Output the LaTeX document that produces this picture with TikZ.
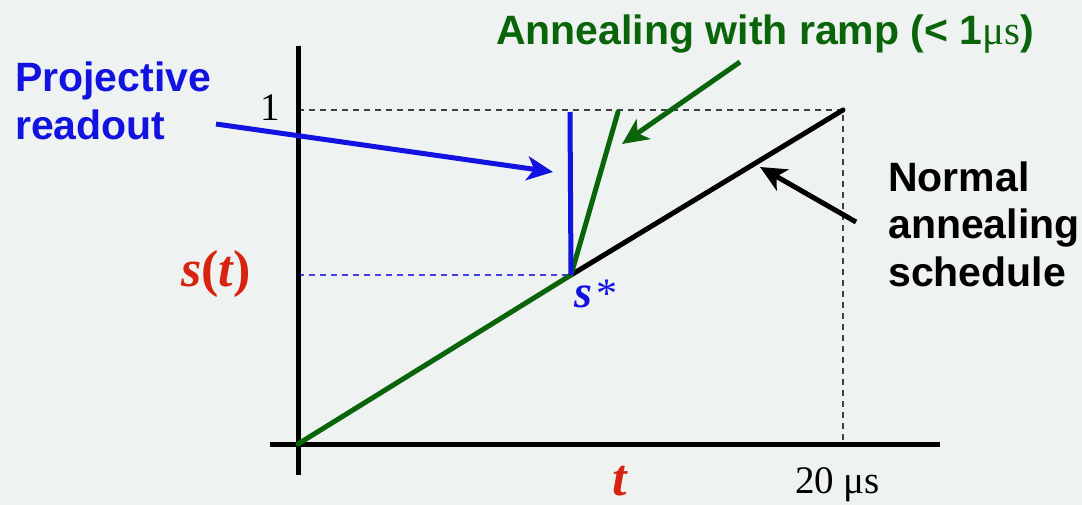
\documentclass[tikz,border=0pt]{standalone}
\usepackage{fontspec}
\setmainfont{Liberation Serif}
\newfontfamily\arialf{Liberation Sans}
\usetikzlibrary{arrows.meta}
\definecolor{bgc}{RGB}{238,242,240}
\definecolor{pblue}{RGB}{18,18,225}
\definecolor{pgreen}{RGB}{10,100,10}
\definecolor{pred}{RGB}{215,35,15}
\tikzset{
  axisline/.style={line width=5pt,black},
  sched/.style={line width=5pt,line cap=round},
  guide/.style={line width=1.6pt,dash pattern=on 6pt off 5pt},
  pointer/.style={line width=5pt,-{Stealth[length=26pt,width=24pt,inset=7pt]}},
  labsans/.style={font=\arialf\bfseries\fontsize{41}{48}\selectfont,inner sep=0pt,align=left},
  labserif/.style={font=\fontsize{39}{45}\selectfont,inner sep=0pt},
  labvar/.style={font=\bfseries\itshape\fontsize{52}{55}\selectfont,inner sep=0pt,text=pred}
}
\begin{document}
\begin{tikzpicture}[x=1pt,y=-1pt]
\fill[bgc] (0,0) rectangle (1082,505);
\useasboundingbox (0,0) rectangle (1082,505);
% key points
\coordinate (O) at (298,444);
\coordinate (T) at (843,110);
\coordinate (S) at (571,275);
\coordinate (G) at (618,112);
\coordinate (B) at (570,112);
\coordinate (Y1) at (298,110);
\coordinate (YS) at (298,275);
\coordinate (X20) at (843,444);
\coordinate (ytop) at (298,46);
\coordinate (ybot) at (298,475);
\coordinate (xl) at (270,444);
\coordinate (xr) at (940,444);
% guides
\draw[guide,black!75] (Y1) -- (T) -- (X20);
\draw[guide,pblue!80] (YS) -- (S);
% axes
\draw[axisline] (ytop) -- (ybot);
\draw[axisline] (xl) -- (xr);
% schedules
\draw[sched,black] (S) -- (T);
\draw[sched,pgreen] (O) -- (S) -- (G);
\draw[line width=5pt,pblue] (S) -- (B);
% labels
\node[labsans,text=pblue,anchor=base west] (proj) at (15,140) {Projective\\readout};
\node[labsans,text=pgreen,anchor=base west] (ramp) at (496,45) {Annealing with ramp (< 1{\normalfont\fontsize{41}{44}\selectfont μs})};
\node[labsans,text=black,anchor=base west] (norm) at (888,287) {Normal\\annealing\\schedule};
\node[labserif,anchor=base east] (one) at (280,121) {1};
\node[labserif,anchor=base west] (twenty) at (795,493) {20 μs};
\node[labvar,anchor=base west] (st) at (181,287) {s{\upshape(}t{\upshape)}};
\node[labvar,anchor=base west] (tl) at (612,495) {t};
\node[labvar,text=pblue,anchor=base west,font=\bfseries\itshape\fontsize{46}{50}\selectfont] (sstar) at (574,307) {s\hspace{4pt}{\normalfont\fontsize{42}{44}\selectfont *}};
% pointers
\coordinate (pa) at (216,124);
\coordinate (pb) at (553,172);
\coordinate (ga) at (740,62);
\coordinate (gb) at (622,144);
\coordinate (na) at (856,222);
\coordinate (nb) at (760,167);
\draw[pointer,pblue] (pa) -- (pb);
\draw[pointer,pgreen] (ga) -- (gb);
\draw[pointer,black] (na) -- (nb);
\end{tikzpicture}
\end{document}
